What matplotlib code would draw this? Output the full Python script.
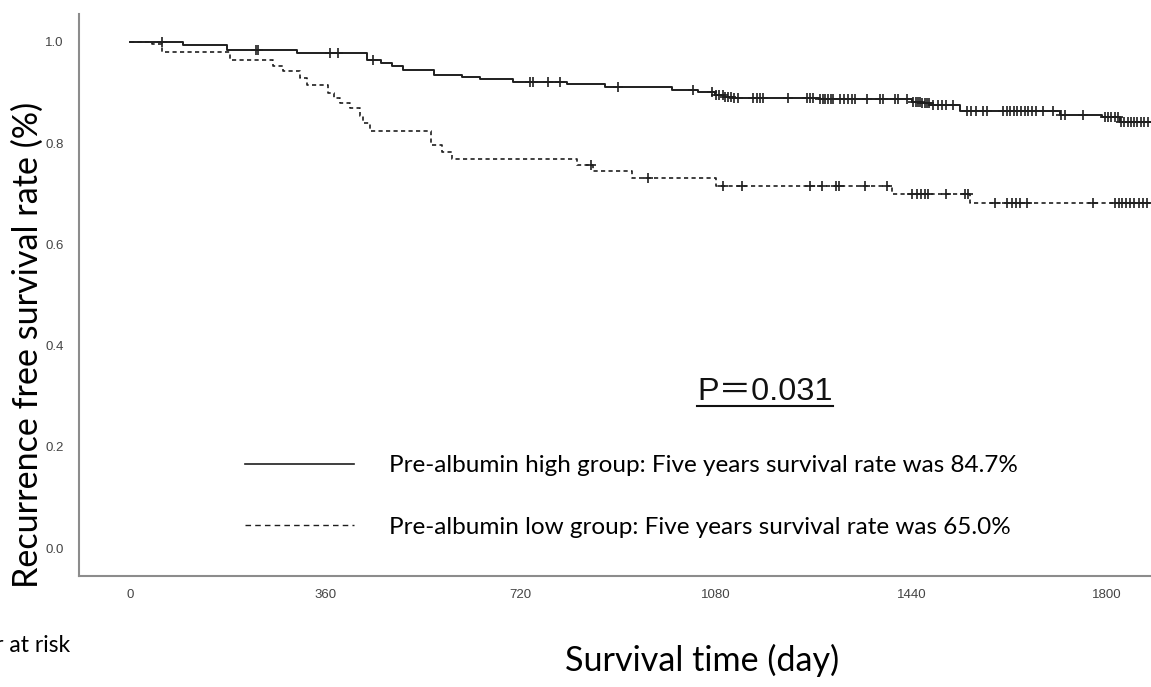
import numpy as np
import matplotlib.pyplot as plt
from matplotlib.lines import Line2D

# Kaplan-Meier steps (day, survival after the drop)
high_t = [0, 98, 178, 308, 436, 462, 482, 503, 560, 611, 645, 706, 805, 875, 998,
          1047, 1078, 1095, 1110, 1271, 1440, 1458, 1474, 1530, 1713, 1790, 1824]
high_s = [1.0, 0.994, 0.984, 0.977, 0.965, 0.958, 0.952, 0.944, 0.934, 0.930, 0.926,
          0.921, 0.917, 0.910, 0.904, 0.901, 0.896, 0.892, 0.889, 0.887, 0.882, 0.879,
          0.876, 0.863, 0.855, 0.852, 0.842]
high_cens = [58, 233, 236, 368, 383, 448, 737, 743, 770, 792, 899, 1037, 1072, 1080,
             1085, 1092, 1097, 1102, 1108, 1113, 1120, 1148, 1155, 1160, 1166, 1212,
             1247, 1252, 1258, 1271, 1276, 1281, 1286, 1291, 1296, 1308, 1315, 1322,
             1330, 1336, 1358, 1382, 1387, 1409, 1415, 1431, 1443, 1448, 1452, 1456,
             1460, 1464, 1468, 1472, 1480, 1488, 1496, 1504, 1516, 1542, 1550, 1558,
             1572, 1579, 1608, 1615, 1622, 1628, 1635, 1642, 1648, 1655, 1662, 1670,
             1682, 1700, 1716, 1722, 1756, 1796, 1802, 1808, 1814, 1820, 1826, 1832,
             1838, 1844, 1850, 1856, 1862, 1868, 1875]

low_t = [0, 40, 58, 184, 264, 282, 313, 326, 365, 375, 387, 405, 423, 430, 442, 554,
         574, 594, 823, 853, 924, 1080, 1403, 1547]
low_s = [1.0, 0.995, 0.979, 0.965, 0.953, 0.942, 0.929, 0.915, 0.899, 0.889, 0.879,
         0.869, 0.853, 0.839, 0.823, 0.796, 0.782, 0.769, 0.757, 0.744, 0.731, 0.716,
         0.700, 0.681]
low_cens = [849, 954, 1093, 1127, 1253, 1275, 1300, 1306, 1354, 1394, 1440, 1450,
            1458, 1465, 1471, 1504, 1538, 1544, 1594, 1615, 1625, 1632, 1640, 1652,
            1775, 1815, 1822, 1828, 1835, 1842, 1850, 1858, 1866, 1874]

x_ticks = [0, 360, 720, 1080, 1440, 1800]
y_ticks = [0.0, 0.2, 0.4, 0.6, 0.8, 1.0]
label_high = "Pre-albumin high group: Five years survival rate was 84.7%"
label_low = "Pre-albumin low group: Five years survival rate was 65.0%"

t_end = 1881
line_col = "#1f1f1f"
txt_font = "Lato"


def surv_at(t, s, times):
    idx = np.searchsorted(t, times, side="right") - 1
    return np.array(s)[idx]


fig = plt.figure(figsize=(11.51, 6.87), dpi=100)
ax = fig.add_axes([79 / 1151, 1 - 576 / 687, 1 - 79 / 1151, 562 / 687])

ax.step(high_t + [t_end], high_s + [high_s[-1]], where="post", color=line_col, lw=1.4)
ax.step(low_t + [t_end], low_s + [low_s[-1]], where="post", color=line_col, lw=1.2,
        linestyle=(0, (2.5, 2)))
ax.plot(high_cens, surv_at(high_t, high_s, high_cens), "+", color=line_col, ms=6.5, mew=1.2)
ax.plot(low_cens, surv_at(low_t, low_s, low_cens), "+", color=line_col, ms=6.5, mew=1.2)

ax.set_xlim(-94, t_end)
ax.set_ylim(-0.055, 1.055)
ax.set_xticks(x_ticks)
ax.set_yticks(y_ticks)
ax.set_xticklabels([str(v) for v in x_ticks], fontsize=9.5, color="#444444",
                   family="Liberation Sans")
ax.set_yticklabels([f"{v:.1f}" for v in y_ticks], fontsize=9.5, color="#444444",
                   family="Liberation Sans")
ax.tick_params(axis="both", length=0)
ax.tick_params(axis="x", pad=9)
ax.tick_params(axis="y", pad=11)
for side in ["top", "right"]:
    ax.spines[side].set_visible(False)
for side in ["left", "bottom"]:
    ax.spines[side].set_color("#8c8c8c")
    ax.spines[side].set_linewidth(1.5)

# legend
handles = [Line2D([], [], color=line_col, lw=1.2),
           Line2D([], [], color=line_col, lw=1.0, linestyle=(0, (4, 3)))]
ax.legend(handles, [label_high, label_low], loc="center left",
          bbox_to_anchor=(0.134, 0.1415), frameon=False,
          prop={"family": txt_font, "size": 17.5}, handlelength=4.5,
          handletextpad=1.44, labelspacing=1.67)

# P value, underlined
p_txt = ax.text(0.64, 0.327, "P＝0.031", transform=ax.transAxes, ha="center",
                va="center", fontsize=23.4, color="#111111",
                family=["Liberation Sans", "Noto Sans CJK JP"])
fig.canvas.draw()
bb = p_txt.get_window_extent().transformed(fig.transFigure.inverted())
fig.add_artist(Line2D([bb.x0, bb.x1], [bb.y0 + 0.002, bb.y0 + 0.002],
                      transform=fig.transFigure, color="#111111", lw=1.5))

fig.text(28 / 1151, 1 - 345 / 687, "Recurrence free survival rate (%)", rotation=90,
         ha="center", va="center", fontsize=24.6, family=txt_font)
fig.text(702 / 1151, 1 - 660 / 687, "Survival time (day)", ha="center", va="center",
         fontsize=24.6, family=txt_font)
# the reference is cropped on the left, only the tail of this label shows
fig.text(70 / 1151, 1 - 645 / 687, "Number at risk", ha="right", va="center",
         fontsize=16.5, family=txt_font)

fig.savefig("out.png", dpi=100)
